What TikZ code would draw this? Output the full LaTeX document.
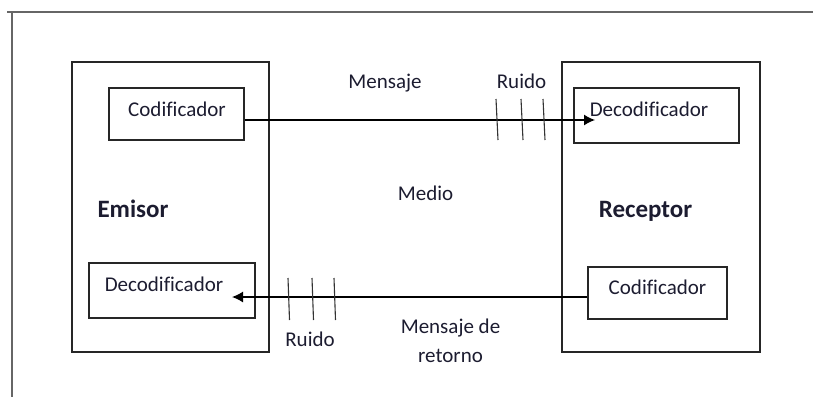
\documentclass[tikz,border=0pt]{standalone}
\usepackage{fontspec}
\setmainfont{Carlito}[Ligatures=NoCommon]
\usetikzlibrary{arrows.meta}
\definecolor{ink}{RGB}{28,28,48}

\begin{document}
\begin{tikzpicture}[x=1pt, y=-1pt, >={Latex[length=11pt, width=11pt]},
  every node/.style={font=\fontsize{21}{29}\selectfont, text=ink, inner sep=0pt},
  blk/.style={draw=black!85, line width=1.2pt},
  lbl/.style={anchor=base},
  role/.style={anchor=base, font=\fontsize{25}{30}\selectfont\bfseries},
  msg/.style={->, line width=1.3pt, black},
  noise/.style={line width=1.1pt, black!80}]
	\useasboundingbox (0,0) rectangle (813,397);
	\draw[line width=1.5pt, black!60] (7,12) -- (813,12);
	\draw[line width=1.5pt, black!60] (12,12) -- (12,397);
	% emisor y receptor
	\node[blk, minimum width=197, minimum height=290] (emisor) at (170.5,207) {};
	\node[blk, minimum width=198, minimum height=290] (receptor) at (661,207) {};
	\node[blk, minimum width=135, minimum height=52] (cod1) at (176.5,114) {};
	\node[blk, minimum width=165, minimum height=55] (dec1) at (656.5,115.5) {};
	\node[blk, minimum width=166, minimum height=55] (dec2) at (172,290.5) {};
	\node[blk, minimum width=139, minimum height=52] (cod2) at (657.5,293) {};
	\node[lbl] (tcod1) at (177,116) {Codificador};
	\node[lbl] (tdec1) at (649,116) {Decodificador};
	\node[lbl] (tdec2) at (164,291) {Decodificador};
	\node[lbl] (tcod2) at (657.5,294) {Codificador};
	\node[role] (temisor) at (133,217) {Emisor};
	\node[role] (treceptor) at (645.5,217) {Receptor};
	% mensajes
	\coordinate (tip1) at (595,120);
	\coordinate (tip2) at (232,297);
	\draw[msg] (cod1.east |- tip1) -- (tip1);
	\draw[msg] (cod2.west |- tip2) -- (tip2);
	\foreach \x in {496,521,543} \draw[noise] (\x,99) -- (\x+2,140);
	\foreach \x in {288,312,334} \draw[noise] (\x,278) -- (\x+1.5,320);
	\node[lbl] (mensaje) at (385,88) {Mensaje};
	\node[lbl] (ruido1) at (521.5,88) {Ruido};
	\node[lbl] (medio) at (425.5,200) {Medio};
	\node[lbl] (ruido2) at (310,346) {Ruido};
	\node[lbl, align=center] (retorno) at (450.5,362) {Mensaje de\\retorno};
\end{tikzpicture}
\end{document}
